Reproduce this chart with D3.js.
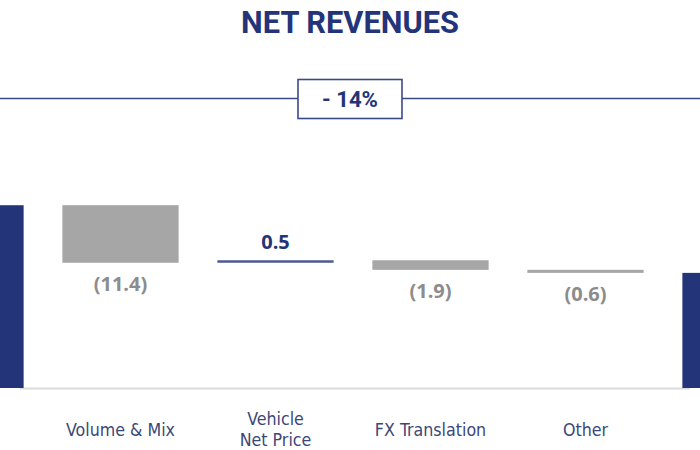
<!DOCTYPE html>
<html>
<head>
<meta charset="utf-8">
<script src="https://cdn.jsdelivr.net/npm/d3@7"></script>
<style>
  html, body { margin: 0; padding: 0; background: #ffffff; }
  svg { display: block; }
</style>
</head>
<body>
<div id="chart"></div>
<script>
// ---- data ----
const title = "NET REVENUES";
const changeLabel = "- 14%";
const categories = ["Prior Year", "Volume & Mix", "Vehicle\nNet Price", "FX Translation", "Other", "Current Year"];
const categoryLabels = ["", "Volume & Mix", "Vehicle\nNet Price", "FX Translation", "Other", ""];
const startValue = 95.7;
const deltas = [-11.4, 0.5, -1.9, -0.6];
const yDomain = [59.5, 100];

// ---- layout ----
const W = 700, H = 450;
const navy = "#233478";
const gray = "#a6a6a6";
const labelColor = "#3b4877";

const svg = d3.select("#chart").append("svg")
  .attr("width", W).attr("height", H);

// build waterfall steps
const steps = [];
let running = startValue;
steps.push({cat: categories[0], y0: yDomain[0], y1: startValue, kind: "total", value: startValue});
deltas.forEach((d, i) => {
  const from = running, to = running + d;
  steps.push({cat: categories[i + 1], y0: Math.min(from, to), y1: Math.max(from, to),
              kind: d >= 0 ? "up" : "down", value: d});
  running = to;
});
steps.push({cat: categories[5], y0: yDomain[0], y1: running, kind: "total", value: running});

const x = d3.scaleBand().domain(categories).range([-112, 818])
  .paddingInner(0.25).paddingOuter(0.125);
const y = d3.scaleLinear().domain(yDomain).range([388, 183.5]);

// title
const t = svg.append("text")
  .attr("x", W / 2).attr("y", 33)
  .attr("text-anchor", "middle")
  .attr("font-family", "Roboto, 'Open Sans', sans-serif")
  .attr("font-weight", 700)
  .attr("font-size", 28)
  .attr("fill", navy)
  .text(title);
const tw = t.node().getComputedTextLength();
t.attr("font-size", 28 * 218 / tw);

// change line + box
svg.append("line").attr("x1", 0).attr("x2", W).attr("y1", 98.5).attr("y2", 98.5)
  .attr("stroke", "#3a4a86").attr("stroke-width", 1.6);
svg.append("rect").attr("x", 298).attr("y", 79.5).attr("width", 104).attr("height", 39)
  .attr("fill", "#fff").attr("stroke", "#3a4a86").attr("stroke-width", 1.6);
const ct = svg.append("text")
  .attr("x", 350).attr("y", 107)
  .attr("text-anchor", "middle")
  .attr("font-family", "Roboto, 'Open Sans', sans-serif")
  .attr("font-weight", 700)
  .attr("font-size", 22)
  .attr("fill", navy)
  .text(changeLabel);
const cw = ct.node().getComputedTextLength();
ct.attr("font-size", 22 * 56 / cw);

// baseline
svg.append("line").attr("x1", 20).attr("x2", 690).attr("y1", 388.5).attr("y2", 388.5)
  .attr("stroke", "#dcdcdc").attr("stroke-width", 2);

// bars
svg.selectAll("rect.bar").data(steps).enter().append("rect")
  .attr("class", "bar")
  .attr("x", d => x(d.cat))
  .attr("width", x.bandwidth())
  .attr("y", d => y(d.y1))
  .attr("height", d => Math.max(2, y(d.y0) - y(d.y1)))
  .attr("fill", d => d.kind === "total" ? navy : d.kind === "up" ? "#4f5a92" : gray);

// value labels
const fmt = v => v < 0 ? "(" + d3.format(".1f")(-v) + ")" : d3.format(".1f")(v);
const deltaSteps = steps.filter(d => d.kind !== "total");
svg.selectAll("text.val").data(deltaSteps).enter().append("text")
  .attr("class", "val")
  .attr("x", d => x(d.cat) + x.bandwidth() / 2)
  .attr("y", d => d.kind === "up" ? y(d.y1) - 11 : y(d.y0) + 28)
  .attr("text-anchor", "middle")
  .attr("font-family", "'Open Sans', Roboto, sans-serif")
  .attr("font-weight", 700)
  .attr("font-size", 20)
  .attr("fill", d => d.kind === "up" ? navy : "#8c8c8c")
  .text(d => fmt(d.value));

// category labels
const labelFont = "'Liberation Sans Narrow', 'DejaVu Sans Condensed', Roboto, sans-serif";
const probe = svg.append("text").attr("font-family", labelFont).attr("font-size", 19).text("Volume & Mix");
const labelSize = 19 * 109 / probe.node().getComputedTextLength();
probe.remove();
categories.forEach((c, i) => {
  const lines = categoryLabels[i] ? categoryLabels[i].split("\n") : [];
  if (!lines.length) return;
  const cx = x(c) + x.bandwidth() / 2;
  const txt = svg.append("text")
    .attr("text-anchor", "middle")
    .attr("font-family", labelFont)
    .attr("font-size", labelSize)
    .attr("fill", labelColor);
  const startY = lines.length === 1 ? 436 : 425;
  lines.forEach((l, j) => {
    txt.append("tspan").attr("x", cx).attr("y", startY + j * 21).text(l);
  });
});
</script>
</body>
</html>
